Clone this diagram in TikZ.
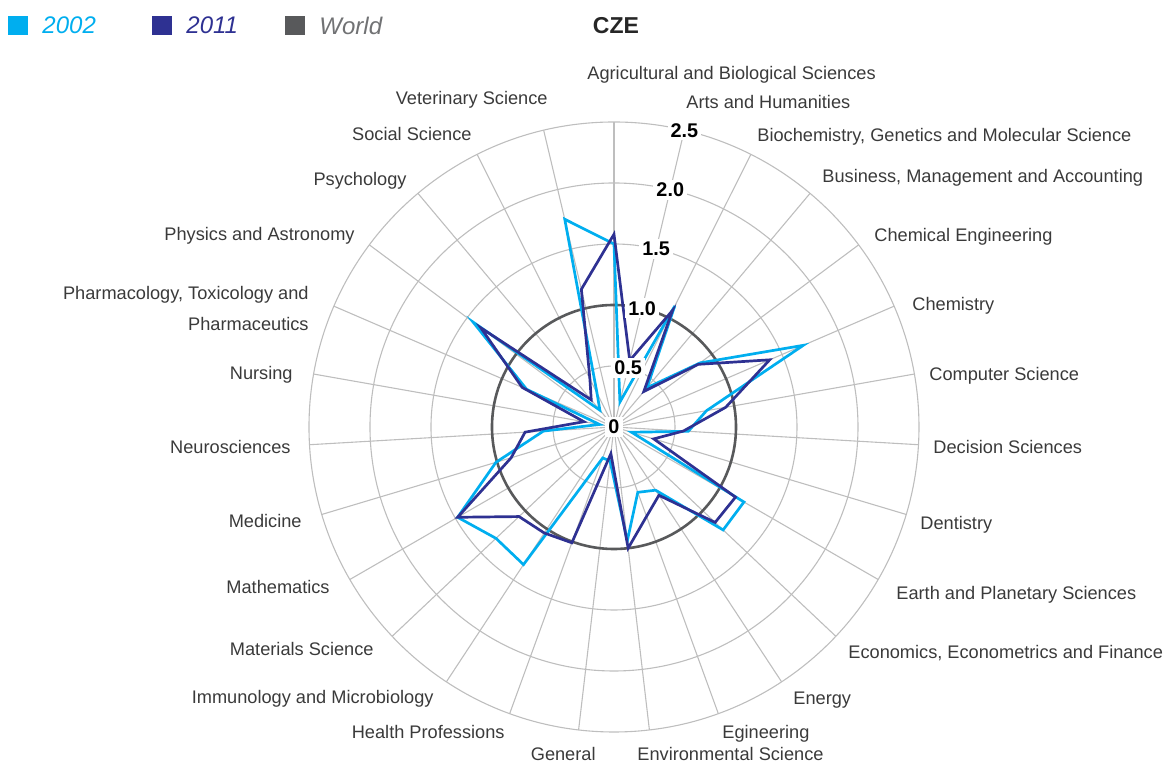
\documentclass[tikz,border=0pt]{standalone}
\usepackage{fontspec}
\setmainfont{Liberation Sans}
\usetikzlibrary{positioning}

\definecolor{cyanline}{HTML}{00AEEF}
\definecolor{blueline}{HTML}{2E3192}
\definecolor{worldgrey}{HTML}{58595B}
\definecolor{gridgrey}{HTML}{BEBEBE}
\definecolor{textgrey}{HTML}{3A3A3A}

\tikzset{
    GridLine/.style={gridgrey, line width=0.55pt},
    WorldLine/.style={worldgrey, line width=1.3pt},
    DataLine/.style={line width=1.35pt, line join=miter},
    FieldLabel/.style={text=textgrey, inner sep=0pt, align=right, yshift=-1.25pt, font=\fontsize{9.1}{15.5}\selectfont},
    TickLabel/.style={fill=white, inner sep=1.5pt, font=\fontsize{9.9}{11}\selectfont\bfseries},
    LegendBox/.style={minimum size=9.7pt, inner sep=0pt},
    LegendText/.style={inner sep=0pt, font=\fontsize{12}{14}\selectfont\itshape}
}

\begin{document}
\begin{tikzpicture}[x=0.5pt,y=0.5pt]
    \useasboundingbox (-614,-337) rectangle (555,427);

    % grid
    \foreach \k in {0,...,26}
        \draw[GridLine] (0,0) -- ({90-\k*360/27}:305);
    \foreach \r in {0.5,1.5,2.0,2.5}
        \draw[GridLine] (0,0) circle[radius=\r*122];
    \draw[WorldLine] (0,0) circle[radius=122];

    % 2002 and 2011
    \foreach \v [count=\k from 0] in {1.50,0.21,1.11,0.42,0.88,1.69,0.77,0.61,0.15,1.23,1.23,0.62,0.57,0.94,0.28,0.27,1.35,1.33,1.48,1.01,0.58,0.12,0.78,1.44,0.18,0.31,1.75}
        \coordinate (old\k) at ({90-\k*360/27}:{\v*122});
    \foreach \v [count=\k from 0] in {1.58,0.56,1.07,0.38,0.86,1.39,0.93,0.57,0.34,1.15,1.14,0.67,0.78,1.00,0.22,1.01,1.04,1.07,1.48,0.88,0.73,0.25,0.82,1.36,0.29,0.44,1.16}
        \coordinate (new\k) at ({90-\k*360/27}:{\v*122});
    \draw[DataLine, cyanline] (old0) \foreach \k in {1,...,26} {-- (old\k)} -- cycle;
    \draw[DataLine, blueline] (new0) \foreach \k in {1,...,26} {-- (new\k)} -- cycle;

    % axis numbers
    \node[TickLabel] (tick0) at (0,0) {0};
    \foreach \v [count=\i] in {0.5,1.0,1.5,2.0,2.5}
        \node[TickLabel] (tick\i) at ({90-360/27}:{\v*122}) {\v};

    % field names
    \foreach \px/\py/\anc/\txt [count=\i from 0] in {
        -27/355/west/{Agricultural and Biological Sciences},
        72/327/west/{Arts and Humanities},
        143/293/west/{Biochemistry, Genetics and Molecular Science},
        208/252/west/{Business, Management and Accounting},
        260/193/west/{Chemical Engineering},
        298/124/west/{Chemistry},
        315/54/west/{Computer Science},
        319/-18/west/{Decision Sciences},
        306/-95/west/{Dentistry},
        282/-165/west/{Earth and Planetary Sciences},
        234/-224/west/{Economics, Econometrics and Finance},
        179/-271/west/{Energy},
        108/-304/west/{Egineering},
        23/-325/west/{Environmental Science},
        -18/-325/east/{General},
        -109/-303/east/{Health Professions},
        -180/-269/east/{Immunology and Microbiology},
        -240/-220/east/{Materials Science},
        -284/-158/east/{Mathematics},
        -312/-92/east/{Medicine},
        -323/-18/east/{Neurosciences},
        -321/55/east/{Nursing},
        -305/120.5/east/{Pharmacology, Toxicology and\\Pharmaceutics},
        -259/194/east/{Physics and Astronomy},
        -207/249/east/{Psychology},
        -142/295/east/{Social Science},
        -66/330/east/{Veterinary Science}}
        \node[FieldLabel, anchor=\anc] (field\i) at (\px,\py) {\txt};

    % legend
    \node[LegendBox, fill=cyanline] (box2002) at (-596,401.5) {};
    \node[LegendText, text=cyanline, right=7pt of box2002] (key2002) {2002};
    \node[LegendBox, fill=blueline] (box2011) at (-452,401.5) {};
    \node[LegendText, text=blueline, right=7pt of box2011] (key2011) {2011};
    \node[LegendBox, fill=worldgrey] (boxworld) at (-319,401.5) {};
    \node[LegendText, text=worldgrey!85, right=7pt of boxworld] (keyworld) {World};
    \node[font=\fontsize{11.5}{14}\selectfont\bfseries, text=black!85] (title) at (2,401) {CZE};
\end{tikzpicture}
\end{document}
